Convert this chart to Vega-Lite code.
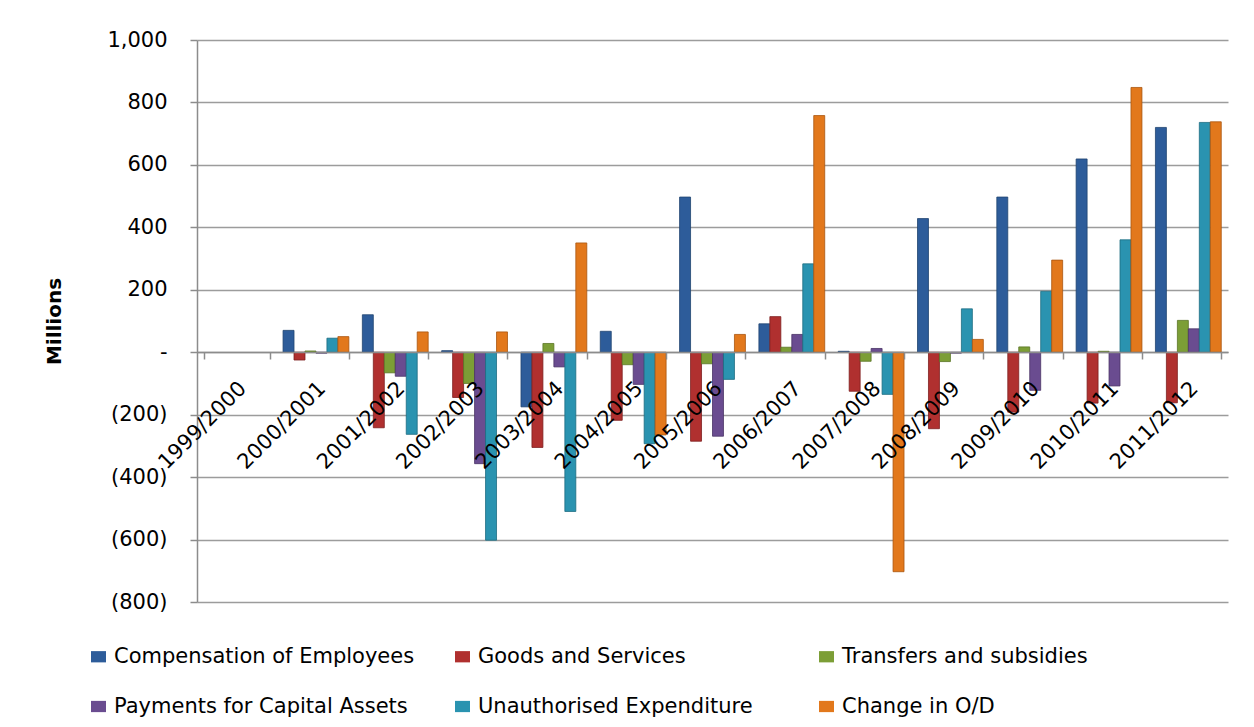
{
  "$schema": "https://vega.github.io/schema/vega-lite/v6.json",
  "autosize": "none",
  "width": 1031,
  "height": 562,
  "padding": {"left": 197, "top": 40, "right": 26, "bottom": 125},
  "background": "white",
  "config": {
    "view": {"stroke": null},
    "font": "DejaVu Sans"
  },
  "data": {
    "values": [
      {"year": "1999/2000", "series": "Compensation of Employees", "value": 0},
      {"year": "1999/2000", "series": "Goods and Services", "value": 0},
      {"year": "1999/2000", "series": "Transfers and subsidies", "value": 0},
      {"year": "1999/2000", "series": "Payments for Capital Assets", "value": 0},
      {"year": "1999/2000", "series": "Unauthorised Expenditure", "value": 0},
      {"year": "1999/2000", "series": "Change in O/D", "value": 0},
      {"year": "2000/2001", "series": "Compensation of Employees", "value": 70},
      {"year": "2000/2001", "series": "Goods and Services", "value": -25},
      {"year": "2000/2001", "series": "Transfers and subsidies", "value": 4},
      {"year": "2000/2001", "series": "Payments for Capital Assets", "value": -3},
      {"year": "2000/2001", "series": "Unauthorised Expenditure", "value": 45},
      {"year": "2000/2001", "series": "Change in O/D", "value": 50},
      {"year": "2001/2002", "series": "Compensation of Employees", "value": 120},
      {"year": "2001/2002", "series": "Goods and Services", "value": -242},
      {"year": "2001/2002", "series": "Transfers and subsidies", "value": -66},
      {"year": "2001/2002", "series": "Payments for Capital Assets", "value": -77},
      {"year": "2001/2002", "series": "Unauthorised Expenditure", "value": -263},
      {"year": "2001/2002", "series": "Change in O/D", "value": 65},
      {"year": "2002/2003", "series": "Compensation of Employees", "value": 5},
      {"year": "2002/2003", "series": "Goods and Services", "value": -145},
      {"year": "2002/2003", "series": "Transfers and subsidies", "value": -100},
      {"year": "2002/2003", "series": "Payments for Capital Assets", "value": -357},
      {"year": "2002/2003", "series": "Unauthorised Expenditure", "value": -602},
      {"year": "2002/2003", "series": "Change in O/D", "value": 65},
      {"year": "2003/2004", "series": "Compensation of Employees", "value": -175},
      {"year": "2003/2004", "series": "Goods and Services", "value": -305},
      {"year": "2003/2004", "series": "Transfers and subsidies", "value": 28},
      {"year": "2003/2004", "series": "Payments for Capital Assets", "value": -47},
      {"year": "2003/2004", "series": "Unauthorised Expenditure", "value": -510},
      {"year": "2003/2004", "series": "Change in O/D", "value": 350},
      {"year": "2004/2005", "series": "Compensation of Employees", "value": 67},
      {"year": "2004/2005", "series": "Goods and Services", "value": -218},
      {"year": "2004/2005", "series": "Transfers and subsidies", "value": -40},
      {"year": "2004/2005", "series": "Payments for Capital Assets", "value": -103},
      {"year": "2004/2005", "series": "Unauthorised Expenditure", "value": -293},
      {"year": "2004/2005", "series": "Change in O/D", "value": -265},
      {"year": "2005/2006", "series": "Compensation of Employees", "value": 497},
      {"year": "2005/2006", "series": "Goods and Services", "value": -285},
      {"year": "2005/2006", "series": "Transfers and subsidies", "value": -37},
      {"year": "2005/2006", "series": "Payments for Capital Assets", "value": -269},
      {"year": "2005/2006", "series": "Unauthorised Expenditure", "value": -87},
      {"year": "2005/2006", "series": "Change in O/D", "value": 57},
      {"year": "2006/2007", "series": "Compensation of Employees", "value": 91},
      {"year": "2006/2007", "series": "Goods and Services", "value": 114},
      {"year": "2006/2007", "series": "Transfers and subsidies", "value": 16},
      {"year": "2006/2007", "series": "Payments for Capital Assets", "value": 57},
      {"year": "2006/2007", "series": "Unauthorised Expenditure", "value": 283},
      {"year": "2006/2007", "series": "Change in O/D", "value": 758},
      {"year": "2007/2008", "series": "Compensation of Employees", "value": 3},
      {"year": "2007/2008", "series": "Goods and Services", "value": -125},
      {"year": "2007/2008", "series": "Transfers and subsidies", "value": -29},
      {"year": "2007/2008", "series": "Payments for Capital Assets", "value": 12},
      {"year": "2007/2008", "series": "Unauthorised Expenditure", "value": -135},
      {"year": "2007/2008", "series": "Change in O/D", "value": -703},
      {"year": "2008/2009", "series": "Compensation of Employees", "value": 428},
      {"year": "2008/2009", "series": "Goods and Services", "value": -245},
      {"year": "2008/2009", "series": "Transfers and subsidies", "value": -30},
      {"year": "2008/2009", "series": "Payments for Capital Assets", "value": -3},
      {"year": "2008/2009", "series": "Unauthorised Expenditure", "value": 139},
      {"year": "2008/2009", "series": "Change in O/D", "value": 41},
      {"year": "2009/2010", "series": "Compensation of Employees", "value": 497},
      {"year": "2009/2010", "series": "Goods and Services", "value": -192},
      {"year": "2009/2010", "series": "Transfers and subsidies", "value": 17},
      {"year": "2009/2010", "series": "Payments for Capital Assets", "value": -122},
      {"year": "2009/2010", "series": "Unauthorised Expenditure", "value": 195},
      {"year": "2009/2010", "series": "Change in O/D", "value": 295},
      {"year": "2010/2011", "series": "Compensation of Employees", "value": 619},
      {"year": "2010/2011", "series": "Goods and Services", "value": -163},
      {"year": "2010/2011", "series": "Transfers and subsidies", "value": 3},
      {"year": "2010/2011", "series": "Payments for Capital Assets", "value": -108},
      {"year": "2010/2011", "series": "Unauthorised Expenditure", "value": 360},
      {"year": "2010/2011", "series": "Change in O/D", "value": 848},
      {"year": "2011/2012", "series": "Compensation of Employees", "value": 720},
      {"year": "2011/2012", "series": "Goods and Services", "value": -162},
      {"year": "2011/2012", "series": "Transfers and subsidies", "value": 102},
      {"year": "2011/2012", "series": "Payments for Capital Assets", "value": 75},
      {"year": "2011/2012", "series": "Unauthorised Expenditure", "value": 736},
      {"year": "2011/2012", "series": "Change in O/D", "value": 738}
    ]
  },
  "mark": {"type": "bar", "strokeWidth": 0.8},
  "encoding": {
    "x": {
      "field": "year",
      "type": "nominal",
      "sort": null,
      "scale": {"paddingInner": 0.17, "paddingOuter": 0.085},
      "axis": {
        "title": null,
        "orient": "bottom",
        "offset": -250,
        "zindex": 2,
        "tickBand": "extent",
        "tickSize": 7,
        "tickColor": "#8c8c8c",
        "tickWidth": 1.5,
        "domainColor": "#8c8c8c",
        "domainWidth": 1.5,
        "labelAngle": -45,
        "labelAlign": "right",
        "labelBaseline": "middle",
        "labelPadding": 26,
        "labelOffset": 6,
        "labelFont": "DejaVu Sans",
        "labelFontSize": 21,
        "labelColor": "#000000",
        "labelOverlap": false,
        "labelBound": false
      }
    },
    "xOffset": {
      "field": "series",
      "type": "nominal",
      "sort": ["Compensation of Employees", "Goods and Services", "Transfers and subsidies", "Payments for Capital Assets", "Unauthorised Expenditure", "Change in O/D"],
      "scale": {"paddingInner": 0, "paddingOuter": 0}
    },
    "y": {
      "field": "value",
      "type": "quantitative",
      "scale": {"domain": [-800, 1000], "nice": false, "zero": false},
      "axis": {
        "title": "Millions",
        "titleFont": "DejaVu Sans",
        "titleFontSize": 20,
        "titleFontWeight": "bold",
        "titleColor": "#000000",
        "titlePadding": 42,
        "values": [-800, -600, -400, -200, 0, 200, 400, 600, 800, 1000],
        "labelExpr": "datum.value == 0 ? '-\u00a0\u00a0\u00a0\u00a0' : (datum.value < 0 ? '(' + format(-datum.value, ',') + ')' : format(datum.value, ',') + '\u00a0')",
        "labelFont": "DejaVu Sans",
        "labelFontSize": 21,
        "labelColor": "#000000",
        "labelPadding": 23,
        "tickSize": 7,
        "tickColor": "#8c8c8c",
        "tickWidth": 1.5,
        "domainColor": "#8c8c8c",
        "domainWidth": 1.5,
        "grid": true,
        "gridColor": "#9c9c9c",
        "gridWidth": 1.5
      }
    },
    "fill": {
      "field": "series",
      "type": "nominal",
      "scale": {
        "domain": ["Compensation of Employees", "Goods and Services", "Transfers and subsidies", "Payments for Capital Assets", "Unauthorised Expenditure", "Change in O/D"],
        "range": ["#2D5C9A", "#B0302F", "#7C9E36", "#6A4C90", "#2A93B0", "#E2781C"]
      },
      "legend": {
        "title": null,
        "orient": "none",
        "legendX": -109,
        "legendY": 606,
        "direction": "horizontal",
        "columns": 3,
        "gridAlign": "all",
        "columnPadding": 37,
        "rowPadding": 28,
        "labelFont": "DejaVu Sans",
        "labelFontSize": 21,
        "labelColor": "#000000",
        "labelLimit": 0,
        "labelOffset": 5,
        "symbolType": "M-1,-0.75H1V0.75H-1Z",
        "symbolSize": 225,
        "symbolStrokeWidth": 0
      }
    },
    "stroke": {
      "field": "series",
      "type": "nominal",
      "scale": {
        "domain": ["Compensation of Employees", "Goods and Services", "Transfers and subsidies", "Payments for Capital Assets", "Unauthorised Expenditure", "Change in O/D"],
        "range": ["#1F4470", "#7E2020", "#5A7526", "#4A3466", "#1D6C82", "#A9560F"]
      },
      "legend": null
    },
    "strokeOpacity": {
      "condition": {"test": "datum.value == 0", "value": 0},
      "value": 1
    }
  }
}
